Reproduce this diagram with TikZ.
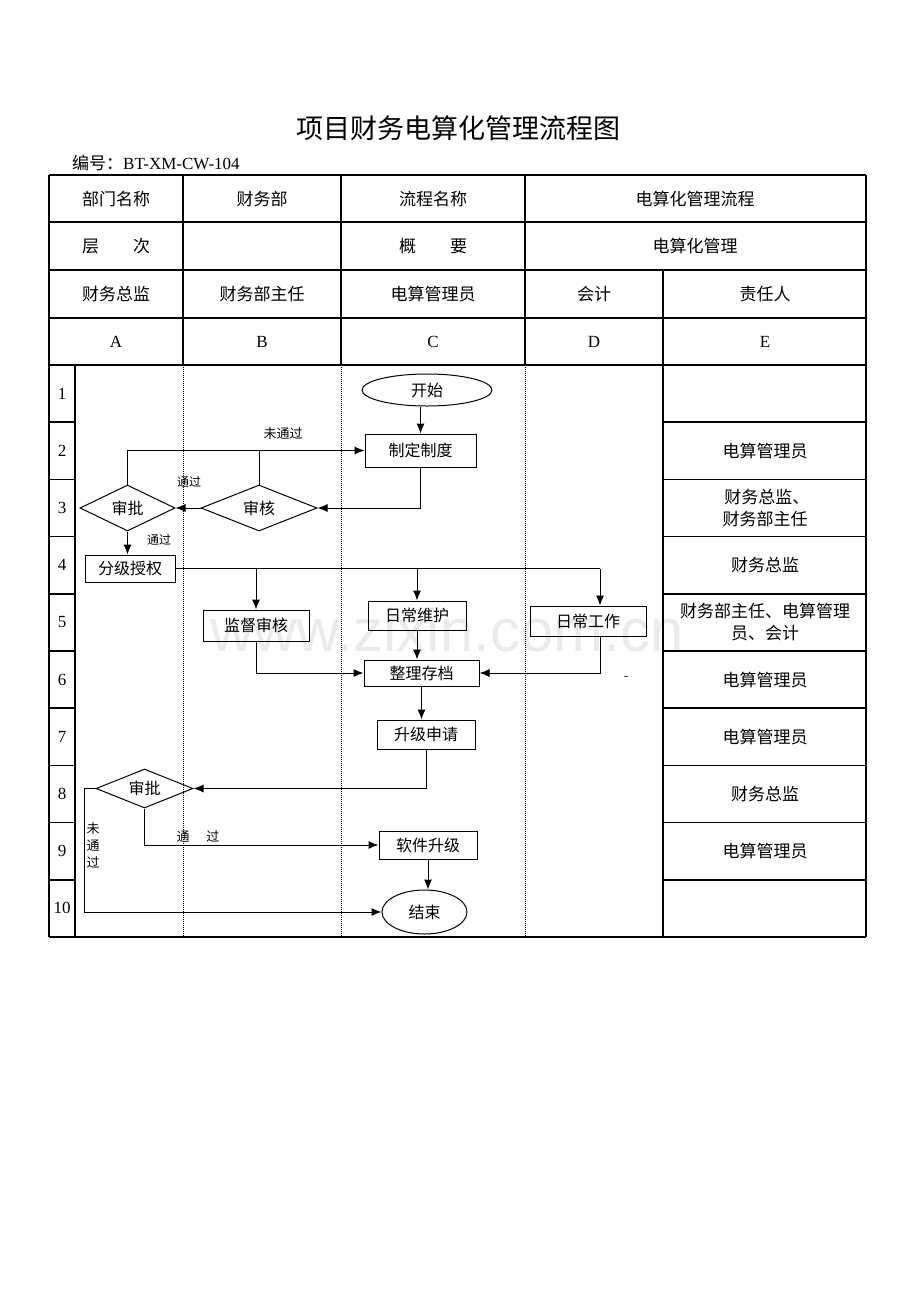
\documentclass[tikz,border=0pt]{standalone}
\usepackage{fontspec}
\setmainfont{Liberation Serif}
\newfontfamily\cjk{Noto Sans CJK SC}
\newfontfamily\wmfont{Liberation Sans}
\usetikzlibrary{arrows.meta,shapes.geometric}
\begin{document}
\begin{tikzpicture}[x=1pt,y=-1pt,
  tline/.style={line width=1.6pt},
  laneline/.style={line width=1pt,densely dotted},
  celltext/.style={inner sep=0pt,font=\cjk\fontsize{17}{22}\selectfont,align=center},
  lattext/.style={inner sep=0pt,font=\fontsize{17}{20}\selectfont},
  flowbox/.style={draw,line width=1pt,rectangle,inner sep=0pt,font=\cjk\fontsize{16}{18}\selectfont},
  flowell/.style={draw,line width=1pt,ellipse,inner sep=0pt,font=\cjk\fontsize{16}{18}\selectfont},
  flowdia/.style={draw,line width=1pt,diamond,aspect=2.5,inner sep=0pt,font=\cjk\fontsize{16}{18}\selectfont},
  conn/.style={line width=1pt},
  arr/.style={conn,-{Latex[length=10pt,width=8pt]}},
  lbl/.style={inner sep=0pt,font=\cjk\fontsize{13}{17}\selectfont,align=center}]
\useasboundingbox (0,0) rectangle (920,1301);

% watermark
\node[inner sep=0pt,text=black!8,font=\wmfont\fontsize{60}{60}\selectfont] (wm) at (447,630) {www.zixin.com.cn};

% title
\node[inner sep=0pt,font=\cjk\fontsize{27}{30}\selectfont] (title) at (458,128) {项目财务电算化管理流程图};
\node[inner sep=0pt,anchor=west,font=\fontsize{17}{20}\selectfont] (code) at (72,163) {{\cjk 编号：}BT-XM-CW-104};

% table lines
\foreach \yy in {175,222,270,318,365,937} \draw[tline] (49,\yy) -- (866,\yy);
\draw[tline] (49,175) -- (49,937);
\draw[tline] (866,175) -- (866,937);
\foreach \xx in {183,341,525} \draw[tline] (\xx,175) -- (\xx,365);
\draw[tline] (663,270) -- (663,937);
\draw[tline] (75,365) -- (75,937);
\foreach \xx in {183,341,525} \draw[laneline] (\xx,365) -- (\xx,937);
\foreach \i in {1,...,9} {
  \draw[tline] (49,365+57.2*\i) -- (75,365+57.2*\i);
  \draw[tline] (663,365+57.2*\i) -- (866,365+57.2*\i);
}
\foreach \i in {1,...,10} \node[lattext] (rn\i) at (62,365+57.2*\i-28.6) {\i};

% header texts
\node[celltext] (h11) at (116,199) {部门名称};
\node[celltext] (h12) at (262,199) {财务部};
\node[celltext] (h13) at (433,199) {流程名称};
\node[celltext] (h14) at (695,199) {电算化管理流程};
\node[celltext] (h21) at (116,246) {层\hspace{2em}次};
\node[celltext] (h23) at (433,246) {概\hspace{2em}要};
\node[celltext] (h24) at (695,246) {电算化管理};
\node[celltext] (h31) at (116,294) {财务总监};
\node[celltext] (h32) at (262,294) {财务部主任};
\node[celltext] (h33) at (433,294) {电算管理员};
\node[celltext] (h34) at (594,294) {会计};
\node[celltext] (h35) at (765,294) {责任人};
\node[lattext] (h41) at (116,342) {A};
\node[lattext] (h42) at (262,342) {B};
\node[lattext] (h43) at (433,342) {C};
\node[lattext] (h44) at (594,342) {D};
\node[lattext] (h45) at (765,342) {E};

% responsible column
\node[celltext] (e2) at (765,451) {电算管理员};
\node[celltext] (e3) at (765,508) {\ 财务总监、\\财务部主任};
\node[celltext] (e4) at (765,565) {财务总监};
\node[celltext] (e5) at (765,622) {财务部主任、电算管理\\员、会计};
\node[celltext] (e6) at (765,680) {电算管理员};
\node[celltext] (e7) at (765,737) {电算管理员};
\node[celltext] (e8) at (765,794) {财务总监};
\node[celltext] (e9) at (765,851) {电算管理员};

% flow nodes
\node[flowell,minimum width=130pt,minimum height=32pt] (ks) at (427,390) {开始};
\node[flowbox,minimum width=111pt,minimum height=33pt] (zd) at (420.5,450.5) {制定制度};
\node[flowdia,minimum width=116pt,minimum height=46pt] (sh) at (259,508) {审核};
\node[flowdia,minimum width=95pt,minimum height=46pt] (sp1) at (127.5,508) {审批};
\node[flowbox,minimum width=90pt,minimum height=27pt] (fj) at (130,568.5) {分级授权};
\node[flowbox,minimum width=106pt,minimum height=31pt] (jd) at (256,625.5) {监督审核};
\node[flowbox,minimum width=98pt,minimum height=29pt] (wh) at (417,615.5) {日常维护};
\node[flowbox,minimum width=116pt,minimum height=30pt] (gz) at (588,621) {日常工作};
\node[flowbox,minimum width=115pt,minimum height=26pt] (zl) at (421.5,673) {整理存档};
\node[flowbox,minimum width=98pt,minimum height=29pt] (sj) at (426,734.5) {升级申请};
\node[flowdia,minimum width=97pt,minimum height=39pt] (sp2) at (144.5,788.5) {审批};
\node[flowbox,minimum width=98pt,minimum height=28pt] (rj) at (428,845) {软件升级};
\node[flowell,minimum width=85pt,minimum height=44pt] (jz) at (424.5,912) {结束};

\coordinate (gzt) at ([xshift=12pt]gz.north);
\coordinate (lp) at (84,788.5);

% connectors
\draw[arr] (zd.north |- ks.south) -- (zd.north);
\draw[arr] (zd.south) |- (sh.east);
\draw[arr] (sh.west) -- (sp1.east);
\draw[conn] (sh.north) -- (sh.north |- zd.west);
\draw[arr] (sp1.north) |- (zd.west);
\draw[arr] (sp1.south) -- (sp1.south |- fj.north);
\draw[conn] (fj.east) -- (fj.east -| gzt);
\draw[arr] (fj.east -| jd.north) -- (jd.north);
\draw[arr] (fj.east -| wh.north) -- (wh.north);
\draw[arr] (fj.east -| gzt) -- (gzt);
\draw[arr] (jd.south) |- (zl.west);
\draw[arr] (wh.south) -- (wh.south |- zl.north);
\draw[arr] (gzt |- gz.south) |- (zl.east);
\draw[arr] (zl.south) -- (zl.south |- sj.north);
\draw[arr] (sj.south) |- (sp2.east);
\draw[arr] (sp2.south) |- (rj.west);
\draw[arr] (rj.south) -- (rj.south |- jz.north);
\draw[arr] (sp2.west) -- (lp) |- (jz.west);

% labels
\node[lbl] (l1) at (283,434) {未通过};
\node[lbl,font=\cjk\fontsize{12}{15}\selectfont] (l2) at (189,482) {通过};
\node[lbl,font=\cjk\fontsize{12}{15}\selectfont] (l3) at (159,540) {通过};
\node[lbl] (l4) at (198,837) {通\hspace{1.3em}过};
\node[lbl] (l5) at (93,845) {未\\通\\过};
\node[lbl] (l6) at (626,678) {-};
\end{tikzpicture}
\end{document}
